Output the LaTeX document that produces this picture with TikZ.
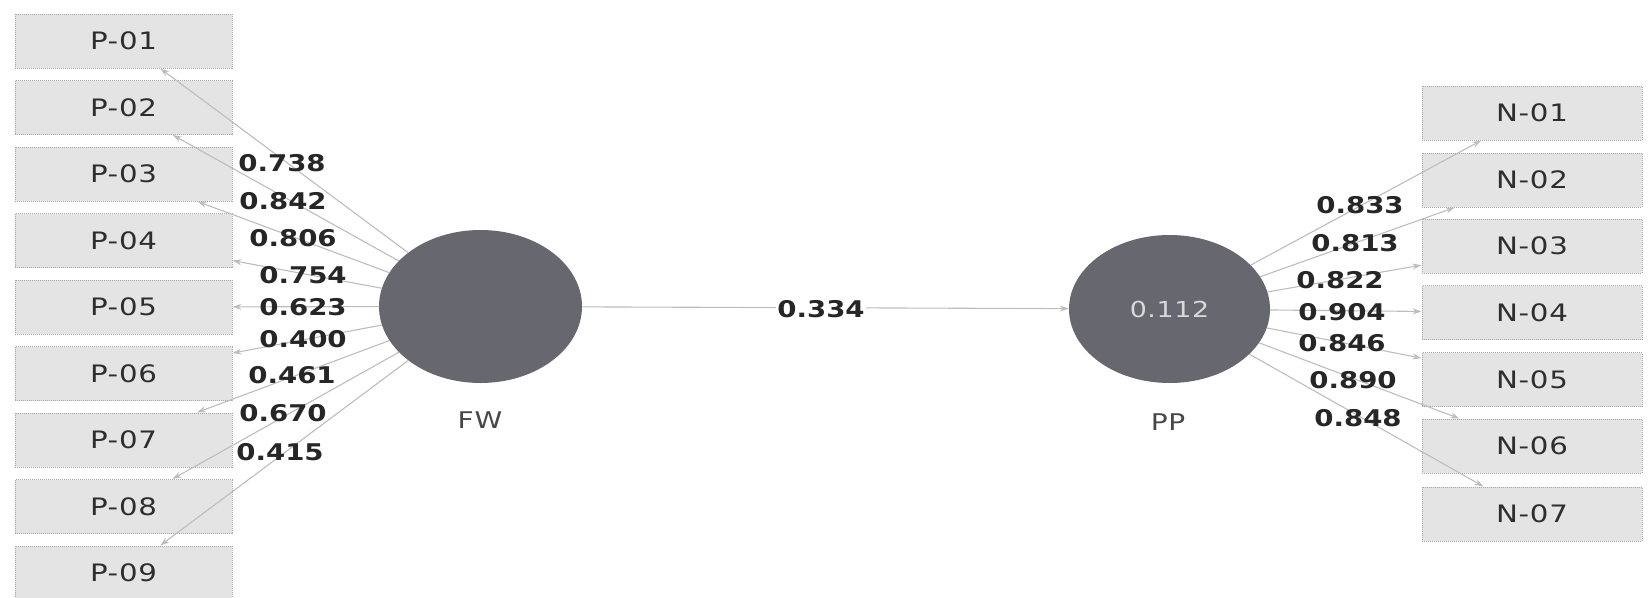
\documentclass[tikz,border=0pt]{standalone}
\usepackage{fontspec}
\setmainfont{DejaVu Sans}
\newfontfamily\boxfont[FakeStretch=1.22,LetterSpace=3]{DejaVu Sans}
\newfontfamily\numfont[FakeStretch=1.2]{DejaVu Sans}
\usetikzlibrary{shapes.geometric,arrows.meta}
\definecolor{lvgray}{HTML}{67686F}
\definecolor{boxfill}{HTML}{E4E4E4}
\definecolor{boxline}{HTML}{A8A8A8}
\definecolor{edgegray}{HTML}{BDBDBD}
\begin{document}
\begin{tikzpicture}[x=1pt,y=-1pt,
  ind/.style={draw=boxline, densely dotted, line width=1pt, fill=boxfill,
    minimum width=217pt, minimum height=54pt, inner sep=0pt,
    font=\boxfont\fontsize{24}{26}\selectfont, text=black!82},
  indr/.style={ind, minimum width=220pt},
  lv/.style={ellipse, fill=lvgray, inner sep=0pt},
  edge/.style={draw=edgegray, line width=1.1pt, -{Stealth[length=9pt,width=6pt]}},
  ld/.style={font=\numfont\bfseries\fontsize{23}{25}\selectfont, text=black!85, inner sep=1pt},
  lvname/.style={font=\boxfont\fontsize{23}{25}\selectfont, text=black!72}
]
\useasboundingbox (0,0) rectangle (1651,597);

% indicators left
\node[ind] (P1) at (123.5,41) {P-01};
\node[ind] (P2) at (123.5,107.5) {P-02};
\node[ind] (P3) at (123.5,174) {P-03};
\node[ind] (P4) at (123.5,240.5) {P-04};
\node[ind] (P5) at (123.5,307) {P-05};
\node[ind] (P6) at (123.5,373.5) {P-06};
\node[ind] (P7) at (123.5,440) {P-07};
\node[ind] (P8) at (123.5,506.5) {P-08};
\node[ind] (P9) at (123.5,573) {P-09};

% indicators right
\node[indr] (N1) at (1532,113) {N-01};
\node[indr] (N2) at (1532,180) {N-02};
\node[indr] (N3) at (1532,246) {N-03};
\node[indr] (N4) at (1532,312.5) {N-04};
\node[indr] (N5) at (1532,379.5) {N-05};
\node[indr] (N6) at (1532,446) {N-06};
\node[indr] (N7) at (1532,514) {N-07};

% latent variables
\node[lv, minimum width=203pt, minimum height=153pt] (FW) at (480.5,306.5) {};
\node[lv, minimum width=201pt, minimum height=148pt,
  font=\boxfont\fontsize{22}{24}\selectfont, text=black!15] (PP) at (1169.5,309) {0.112};
\node[lvname] (FWn) at (480,420) {FW};
\node[lvname] (PPn) at (1168,422) {PP};

% edges
\foreach \i in {1,...,9} { \draw[edge] (FW) -- (P\i); }
\foreach \i in {1,...,7} { \draw[edge] (PP) -- (N\i); }
\draw[edge] (FW) -- (PP);

% labels
\node[ld] (lp1) at (282,163) {0.738};
\node[ld] (lp2) at (283,201) {0.842};
\node[ld] (lp3) at (293,238) {0.806};
\node[ld] (lp4) at (303,275) {0.754};
\node[ld] (lp5) at (303,307) {0.623};
\node[ld] (lp6) at (303,339) {0.400};
\node[ld] (lp7) at (292,375) {0.461};
\node[ld] (lp8) at (283,413) {0.670};
\node[ld] (lp9) at (280,452) {0.415};

\node[ld] (ln1) at (1360,205) {0.833};
\node[ld] (ln2) at (1355,243) {0.813};
\node[ld] (ln3) at (1340,280) {0.822};
\node[ld] (ln4) at (1342,312) {0.904};
\node[ld] (ln5) at (1342,343) {0.846};
\node[ld] (ln6) at (1353,380) {0.890};
\node[ld] (ln7) at (1358,418) {0.848};

\node[ld, fill=white] (lpath) at (821,309) {0.334};
\end{tikzpicture}
\end{document}
